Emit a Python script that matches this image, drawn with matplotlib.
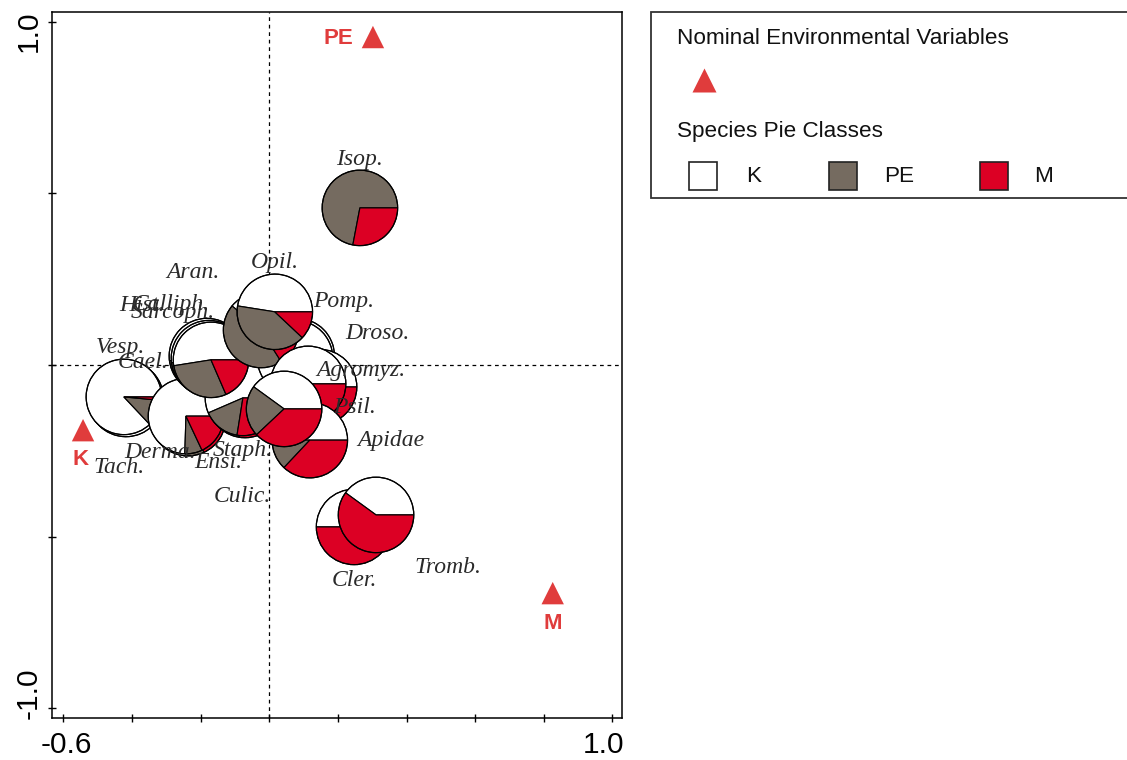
import matplotlib
matplotlib.use("Agg")
import matplotlib.pyplot as plt
from matplotlib.patches import Wedge, Circle, Rectangle
from matplotlib import transforms

# ---- data (listed in drawing order, bottom pie first) ------------------
species = ["Tach.", "Vesp.", "Derma.", "Cael.", "Culic.", "Ensi.", "Hist.",
           "Calliph.", "Sarcoph.", "Droso.", "Pomp.", "Aran.", "Opil.",
           "Psil.", "Agromyz.", "Apidae", "Staph.", "Isop.", "Cler.",
           "Tromb."]
# pie centres (ordination axis 1 / axis 2)
pie_x = [-0.418, -0.424, -0.237, -0.243, -0.071, -0.077, -0.182,
         -0.176, -0.170, 0.080, 0.075, -0.024, 0.016,
         0.145, 0.113, 0.118, 0.043, 0.264, 0.247,
         0.311]
pie_y = [-0.099, -0.093, -0.155, -0.149, -0.102, -0.096, 0.026,
         0.020, 0.015, 0.026, 0.020, 0.102, 0.155,
         -0.064, -0.055, -0.219, -0.128, 0.458, -0.472,
         -0.437]
# class shares per species
share_K = [0.87, 0.87, 0.74, 0.745, 0.565, 0.565, 0.52,
           0.52, 0.525, 0.80, 0.80, 0.39, 0.475,
           0.50, 0.50, 0.50, 0.40, 0.00, 0.50,
           0.40]
share_PE = [0.115, 0.115, 0.08, 0.075, 0.16, 0.16, 0.30,
            0.30, 0.29, 0.05, 0.05, 0.45, 0.405,
            0.00, 0.00, 0.13, 0.22, 0.72, 0.00,
            0.00]
share_M = [0.015, 0.015, 0.18, 0.18, 0.275, 0.275, 0.18,
           0.18, 0.185, 0.15, 0.15, 0.16, 0.12,
           0.50, 0.50, 0.37, 0.38, 0.28, 0.50,
           0.60]
# species label positions
label_x = [-0.438, -0.433, -0.319, -0.368, -0.080, -0.150, -0.371,
           -0.287, -0.281, 0.314, 0.217, -0.223, 0.016,
           0.249, 0.267, 0.354, -0.077, 0.264, 0.247,
           0.521]
label_y = [-0.300, 0.050, -0.254, 0.006, -0.382, -0.283, 0.172,
           0.175, 0.152, 0.093, 0.184, 0.271, 0.300,
           -0.125, -0.015, -0.219, -0.248, 0.598, -0.627,
           -0.589]

# nominal environmental variables
env_names = ["PE", "K", "M"]
env_x = [0.302, -0.543, 0.826]
env_y = [0.956, -0.190, -0.665]

classes = ["K", "PE", "M"]
class_colors = ["#ffffff", "#756b60", "#dc0024"]
env_color = "#e03c3c"

xticks = [-0.6, -0.4, -0.2, 0.0, 0.2, 0.4, 0.6, 0.8, 1.0]
yticks = [-1.0, -0.5, 0.0, 0.5, 1.0]
xlabel_ticks = [-0.6, 1.0]
ylabel_ticks = [-1.0, 1.0]

# ---- figure -----------------------------------------------------------
W, H = 1127, 760
fig = plt.figure(figsize=(W / 100, H / 100), dpi=100)


def fx(px):
    return px / W


def fy(py):
    return 1 - py / H


ax = fig.add_axes([fx(52), fy(718), fx(622) - fx(52), fy(12) - fy(718)])
ax.set_xlim(-0.6335, 1.028)
ax.set_ylim(-1.029, 1.029)

ax.axhline(0, color="black", lw=0.9, ls=(0, (3, 3)), zorder=1)
ax.axvline(0, color="black", lw=0.9, ls=(0, (3, 3)), zorder=1)

radius = 0.110
z = 2
for i in range(len(species)):
    shares = [share_K[i], share_PE[i], share_M[i]]
    start = 0.0
    for s, c in zip(shares, class_colors):
        if s > 0:
            end = start + 360.0 * s
            ax.add_patch(Wedge((pie_x[i], pie_y[i]), radius, start, end,
                               facecolor=c, edgecolor="black", lw=0.85,
                               zorder=z))
            start = end
    ax.add_patch(Circle((pie_x[i], pie_y[i]), radius, facecolor="none",
                        edgecolor="black", lw=0.85, zorder=z + 0.5))
    z += 1

for name, lx, ly in zip(species, label_x, label_y):
    ax.text(lx, ly, name, family="Liberation Serif", style="italic",
            fontsize=17, color="#2a2a2a", ha="center", va="center",
            zorder=100)

ax.scatter(env_x, env_y, marker="^", s=260, color=env_color,
           edgecolors="none", zorder=101)
env_offsets = [(-35, -1), (-2, -29), (0, -30)]
for name, ex, ey, (ox, oy) in zip(env_names, env_x, env_y, env_offsets):
    ax.annotate(name, (ex, ey), xytext=(ox * 0.72, oy * 0.72),
                textcoords="offset points", ha="center", va="center",
                color=env_color, fontsize=16, fontweight="bold",
                family="Liberation Sans", zorder=102)

# ticks cross the frame; only the end values carry a label
ax.set_xticks(xticks)
ax.set_yticks(yticks)
ax.set_xticklabels([])
ax.set_yticklabels([])
ax.tick_params(direction="inout", length=6, width=1)
for sp in ax.spines.values():
    sp.set_linewidth(1.1)

xt = transforms.blended_transform_factory(ax.transData, ax.transAxes)
for v, dx in zip(xlabel_ticks, [3, -9]):
    ax.text(v, 0, f"{v:.1f}", transform=transforms.offset_copy(
                xt, fig=fig, x=dx, y=-27, units="dots"),
            ha="center", va="center", family="Liberation Sans",
            fontsize=21.5, clip_on=False)
yt = transforms.blended_transform_factory(ax.transAxes, ax.transData)
for v, dy in zip(ylabel_ticks, [15, -9]):
    ax.text(0, v, f"{v:.1f}", transform=transforms.offset_copy(
                yt, fig=fig, x=-23, y=dy, units="dots"),
            ha="center", va="center", rotation=90, family="Liberation Sans",
            fontsize=21.5, clip_on=False)

# ---- legend panel -----------------------------------------------------
fig.add_artist(Rectangle((fx(651), fy(198)), fx(1140) - fx(651),
                         fy(12) - fy(198), transform=fig.transFigure,
                         facecolor="white", edgecolor="#333333", lw=1.3,
                         clip_on=False))
fig.text(fx(677), fy(39), "Nominal Environmental Variables",
         family="Liberation Sans", fontsize=16.2, va="center", color="#111111")
fig.text(fx(677), fy(131), "Species Pie Classes",
         family="Liberation Sans", fontsize=16.2, va="center", color="#111111")
fig.add_artist(plt.Line2D([fx(704)], [fy(80)], marker="^", markersize=17,
                          color=env_color, markeredgecolor="none",
                          transform=fig.transFigure))
sq_left = [689, 829, 980]
txt_left = [746, 884, 1034]
for cls, col, sx, tx in zip(classes, class_colors, sq_left, txt_left):
    fig.add_artist(Rectangle((fx(sx), fy(190)), fx(28), 28 / H,
                             transform=fig.transFigure, facecolor=col,
                             edgecolor="#222222", lw=1.2))
    fig.text(fx(tx), fy(177), cls, family="Liberation Sans", fontsize=16.2,
             va="center", color="#111111")

fig.savefig("out.png", dpi=100)
